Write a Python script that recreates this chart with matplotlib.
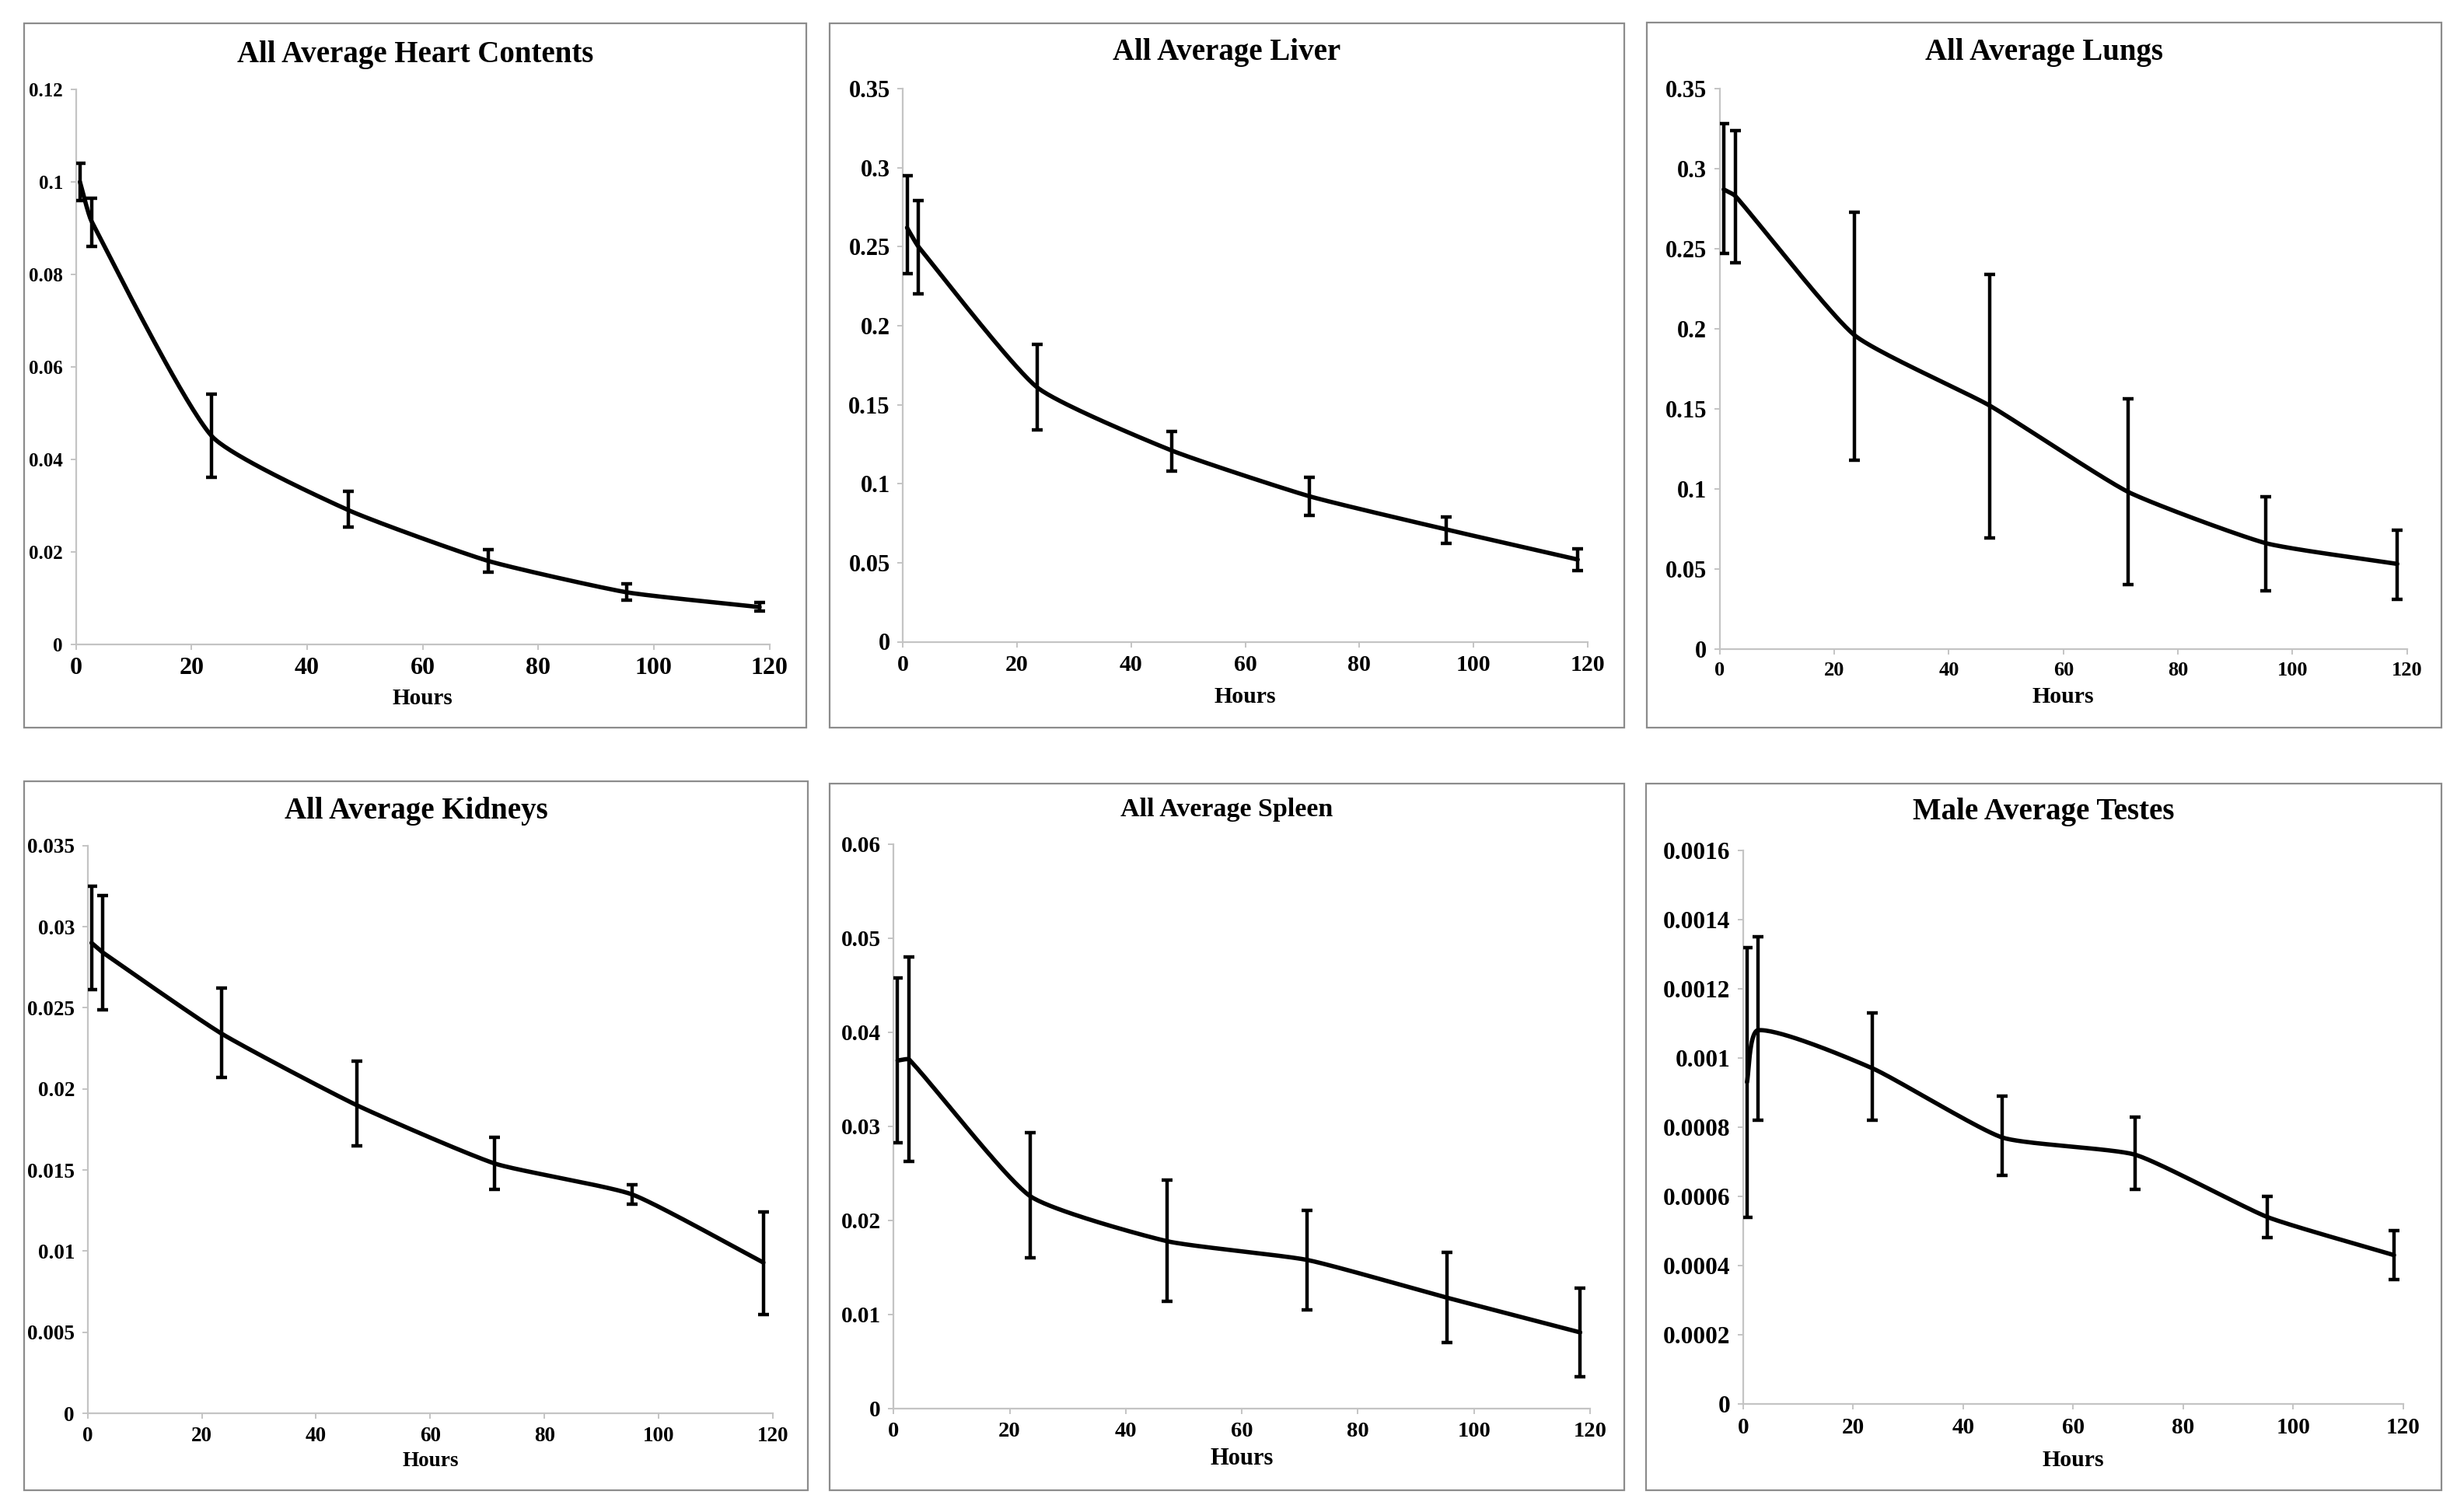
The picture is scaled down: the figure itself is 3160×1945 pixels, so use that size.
import numpy as np
import matplotlib
matplotlib.use("Agg")
import matplotlib.pyplot as plt
from matplotlib.patches import Rectangle
from matplotlib.ticker import FuncFormatter, MultipleLocator

# ---------------- data ----------------
hours = [0.7, 2.7, 23.5, 47.1, 71.3, 95.3, 118.3]

heart_mean = [0.100, 0.0915, 0.045, 0.029, 0.018, 0.0112, 0.0080]
heart_low = [0.096, 0.086, 0.036, 0.0253, 0.0155, 0.0095, 0.0071]
heart_high = [0.104, 0.0965, 0.054, 0.0330, 0.0205, 0.0130, 0.0090]

liver_mean = [0.262, 0.250, 0.161, 0.121, 0.092, 0.071, 0.052]
liver_low = [0.233, 0.220, 0.134, 0.108, 0.080, 0.062, 0.045]
liver_high = [0.295, 0.279, 0.188, 0.133, 0.104, 0.079, 0.059]

lungs_mean = [0.287, 0.283, 0.196, 0.152, 0.098, 0.066, 0.053]
lungs_low = [0.247, 0.241, 0.118, 0.069, 0.040, 0.036, 0.031]
lungs_high = [0.328, 0.324, 0.273, 0.234, 0.156, 0.095, 0.074]

kidneys_mean = [0.0290, 0.0284, 0.0234, 0.0190, 0.0154, 0.0135, 0.0093]
kidneys_low = [0.0261, 0.0249, 0.0207, 0.0165, 0.0138, 0.0129, 0.0061]
kidneys_high = [0.0325, 0.0319, 0.0262, 0.0217, 0.0170, 0.0141, 0.0124]

spleen_mean = [0.0370, 0.0371, 0.0226, 0.0178, 0.0158, 0.0118, 0.0081]
spleen_low = [0.0283, 0.0263, 0.0160, 0.0114, 0.0105, 0.0070, 0.0034]
spleen_high = [0.0458, 0.0480, 0.0293, 0.0243, 0.0211, 0.0166, 0.0128]

testes_mean = [0.00093, 0.00108, 0.00097, 0.00077, 0.00072, 0.00054, 0.00043]
testes_low = [0.00054, 0.00082, 0.00082, 0.00066, 0.00062, 0.00048, 0.00036]
testes_high = [0.00132, 0.00135, 0.00113, 0.00089, 0.00083, 0.00060, 0.00050]

titles = ["All Average Heart Contents", "All Average Liver", "All Average Lungs",
          "All Average Kidneys", "All Average Spleen", "Male Average Testes"]
y_max = [0.12, 0.35, 0.35, 0.035, 0.06, 0.0016]
y_step = [0.02, 0.05, 0.05, 0.005, 0.01, 0.0002]
x_ticks = [0, 20, 40, 60, 80, 100, 120]
x_label = "Hours"

series = [
    (heart_mean, heart_low, heart_high),
    (liver_mean, liver_low, liver_high),
    (lungs_mean, lungs_low, lungs_high),
    (kidneys_mean, kidneys_low, kidneys_high),
    (spleen_mean, spleen_low, spleen_high),
    (testes_mean, testes_low, testes_high),
]

# ---------------- layout (pixels of a 3160x1945 canvas) ----------------
W, H = 3160, 1945
boxes = [(31, 30, 1037, 936), (1067, 30, 2089, 936), (2118, 29, 3140, 936),
         (31, 1005, 1039, 1917), (1067, 1008, 2089, 1917), (2117, 1008, 3140, 1917)]
axes_px = [(97.6, 989.5, 115, 828.5), (1161.4, 2041.6, 114, 825.5),
           (2211.8, 3095.7, 114, 834.5), (112.6, 994.3, 1087.7, 1818.2),
           (1149.2, 2045, 1085.9, 1812), (2241.9, 3091, 1093.9, 1805.9)]
title_y = [70.7, 67, 67, 1043, 1041.5, 1044.6]
hours_y = [899, 896, 896, 1880, 1877, 1878.5]
title_size = [28, 28, 28, 28, 24.5, 28]
ytick_size = [18, 22, 22, 19.5, 21, 22.5]
xtick_size = [23, 21.5, 19, 19.5, 20.5, 21]
hours_size = [21, 21.5, 21.5, 19.5, 22, 21.5]

SERIF = "Liberation Serif"
plt.rcParams["font.family"] = [SERIF, "DejaVu Serif"]
plt.rcParams["font.weight"] = "bold"

fig = plt.figure(figsize=(W / 100, H / 100), dpi=100)
fig.patch.set_facecolor("white")


def smooth_curve(ax, xs, ys, ymax, n=40, k=0.17):
    """Excel-like smoothed line, built from the data points through the axes."""
    xs = np.asarray(xs, float)
    ys = np.asarray(ys, float)
    sx, sy = 1.25 / 120.0, 1.0 / ymax
    P = np.column_stack([xs * sx, ys * sy])
    m = len(P)
    T = np.zeros_like(P)
    for i in range(m):
        if i == 0:
            d = P[1] - P[0]
        elif i == m - 1:
            d = P[-1] - P[-2]
        else:
            d = P[i + 1] - P[i - 1]
        T[i] = d / np.hypot(*d)
    out = [P[0]]
    t = np.linspace(0, 1, n)[1:, None]
    for i in range(m - 1):
        L = np.hypot(*(P[i + 1] - P[i]))
        c1 = P[i] + T[i] * L * k
        c2 = P[i + 1] - T[i + 1] * L * k
        B = ((1 - t) ** 3) * P[i] + 3 * ((1 - t) ** 2) * t * c1 + 3 * (1 - t) * t ** 2 * c2 + t ** 3 * P[i + 1]
        out.extend(B)
    out = np.array(out)
    ax.plot(out[:, 0] / sx, out[:, 1] / sy, color="black", lw=4.0,
            solid_capstyle="round", solid_joinstyle="round", zorder=3)


def fmt(v, pos):
    if abs(v) < 1e-12:
        return "0"
    return ("%.6f" % v).rstrip("0").rstrip(".")


for i in range(6):
    bl, bt, br, bb = boxes[i]
    fig.patches.append(Rectangle((bl / W, 1 - bb / H), (br - bl) / W, (bb - bt) / H,
                                 transform=fig.transFigure, fill=False,
                                 edgecolor="#8c8c8c", lw=1.6, zorder=0))
    xl, xr, yt, yb = axes_px[i]
    ax = fig.add_axes([xl / W, 1 - yb / H, (xr - xl) / W, (yb - yt) / H])
    mean, low, high = series[i]
    mean_a = np.array(mean)
    yerr = [mean_a - np.array(low), np.array(high) - mean_a]
    ax.errorbar(hours, mean, yerr=yerr, fmt="none", ecolor="black",
                elinewidth=3.2, capsize=5, capthick=3.2, zorder=4)
    smooth_curve(ax, hours, mean, y_max[i])

    ax.set_xlim(0, 120)
    ax.set_ylim(0, y_max[i])
    ax.set_xticks(x_ticks)
    ax.yaxis.set_major_locator(MultipleLocator(y_step[i]))
    ax.yaxis.set_major_formatter(FuncFormatter(fmt))
    ax.xaxis.set_major_formatter(FuncFormatter(fmt))
    for s in ["top", "right"]:
        ax.spines[s].set_visible(False)
    for s in ["left", "bottom"]:
        ax.spines[s].set_color("#c4c4c4")
        ax.spines[s].set_linewidth(1.6)
    ax.tick_params(axis="both", direction="out", color="#c4c4c4", length=5, width=1.4)
    ax.tick_params(axis="x", labelsize=xtick_size[i], pad=7)
    ax.tick_params(axis="y", labelsize=ytick_size[i], pad=7)
    for lab in ax.get_xticklabels() + ax.get_yticklabels():
        lab.set_fontweight("bold")
    ax.set_facecolor("none")

    fig.text(((bl + br) / 2) / W, 1 - title_y[i] / H, titles[i], ha="center", va="center",
             fontsize=title_size[i], fontweight="bold")
    fig.text(((xl + xr) / 2) / W, 1 - hours_y[i] / H, x_label, ha="center", va="center",
             fontsize=hours_size[i], fontweight="bold")

fig.savefig("out.png", dpi=100, facecolor="white")
